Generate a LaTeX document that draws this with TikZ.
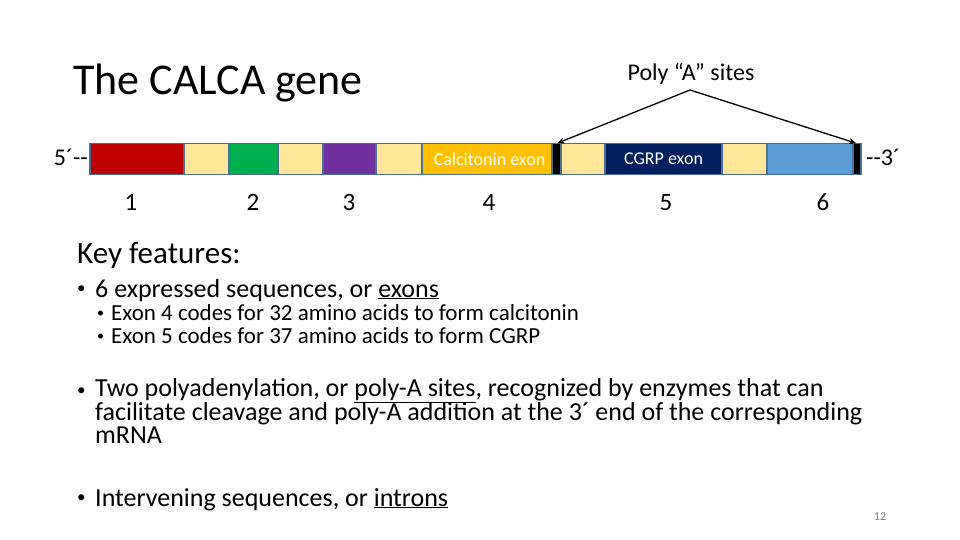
\documentclass[tikz,border=0pt]{standalone}
\usepackage{fontspec}
\setmainfont{Carlito}
\usetikzlibrary{positioning,arrows.meta}
\definecolor{segline}{HTML}{4A6F93}
\definecolor{introntan}{HTML}{FFE699}
\definecolor{exonred}{HTML}{C00000}
\definecolor{exongreen}{HTML}{00B050}
\definecolor{exonpurple}{HTML}{7030A0}
\definecolor{exonorange}{HTML}{FFC000}
\definecolor{exonnavy}{HTML}{002060}
\definecolor{exonblue}{HTML}{5B9BD5}
\tikzset{
  seg/.style={draw=segline, line width=1.3pt, minimum height=31pt, inner sep=0pt, outer sep=0pt},
  intron/.style={seg, fill=introntan},
  txt/.style={anchor=base west, inner sep=0pt},
  dotmark/.style={anchor=base west, inner sep=0pt, font=\fontsize{17}{20}\selectfont},
  numlabel/.style={anchor=base, inner sep=0pt, font=\fontsize{25}{30}\selectfont},
  polyarrow/.style={-{Stealth[length=7pt,width=6pt]}, line width=1.3pt, shorten >=1pt},
}
\begin{document}
\begin{tikzpicture}[x=1pt,y=-1pt]
    \useasboundingbox (0,0) rectangle (960,540);

    \node[txt, font=\fontsize{44}{53}\selectfont] (title) at (73,95) {The CALCA gene};

    % gene bar
    \node[seg, fill=exonred, minimum width=94pt, anchor=west] (e1) at (90,159) {};
    \node[intron, minimum width=45pt, right=0pt of e1] (i1) {};
    \node[seg, fill=exongreen, minimum width=49pt, right=0pt of i1] (e2) {};
    \node[intron, minimum width=45pt, right=0pt of e2] (i2) {};
    \node[seg, fill=exonpurple, minimum width=53pt, right=0pt of i2] (e3) {};
    \node[intron, minimum width=46pt, right=0pt of e3] (i3) {};
    \node[seg, fill=exonorange, minimum width=130pt, right=0pt of i3, text=white, font=\fontsize{18}{21}\selectfont] (e4) {\hspace{5pt}Calcitonin exon};
    \node[seg, fill=black, minimum width=9pt, right=0pt of e4] (pa1) {};
    \node[intron, minimum width=44pt, right=0pt of pa1] (i4) {};
    \node[seg, fill=exonnavy, minimum width=117pt, right=0pt of i4, text=white, font=\fontsize{18}{21}\selectfont] (e5) {CGRP exon};
    \node[intron, minimum width=45pt, right=0pt of e5] (i5) {};
    \node[seg, fill=exonblue, minimum width=86pt, right=0pt of i5] (e6) {};
    \node[seg, fill=black, minimum width=8pt, right=0pt of e6] (pa2) {};

    \node[anchor=base east, inner sep=0pt, font=\fontsize{24}{28}\selectfont] (five) at (88,166) {5´-{}-};
    \node[anchor=base west, inner sep=0pt, font=\fontsize{24}{28}\selectfont] (three) at (866,166) {-{}-3´};

    % exon numbers
    \node[numlabel] (n1) at (131,210) {1};
    \node[numlabel] (n2) at (253,210) {2};
    \node[numlabel] (n3) at (349,210) {3};
    \node[numlabel] (n4) at (489,210) {4};
    \node[numlabel] (n5) at (666,210) {5};
    \node[numlabel] (n6) at (823,210) {6};

    % poly A sites
    \node[anchor=base, inner sep=0pt, font=\fontsize{24}{28}\selectfont] (polyA) at (691,81) {Poly “A” sites};
    \coordinate (apex) at (690,90);
    \draw[polyarrow] (apex) -- (pa1.north);
    \draw[polyarrow] (apex) -- (pa2.north);

    % key features
    \node[txt, font=\fontsize{31}{36}\selectfont] (key) at (77,263) {Key features:};
    \node[dotmark] (dot1) at (77,293) {•};
    \node[txt, font=\fontsize{26}{30}\selectfont] (item1) at (95,297) {6 expressed sequences, or \underline{exons}};
    \node[dotmark, font=\fontsize{14}{16}\selectfont] (dot1a) at (97,317) {•};
    \node[txt, font=\fontsize{23}{26}\selectfont] (item1a) at (111,320) {Exon 4 codes for 32 amino acids to form calcitonin};
    \node[dotmark, font=\fontsize{14}{16}\selectfont] (dot1b) at (97,340) {•};
    \node[txt, font=\fontsize{23}{26}\selectfont] (item1b) at (111,343) {Exon 5 codes for 37 amino acids to form CGRP};
    \node[dotmark] (dot2) at (77,395) {•};
    \node[txt, align=left, font=\fontsize{26}{22.5}\selectfont] (item2) at (95,443) {Two polyadenylation, or \smash{\underline{poly-A sites}}, recognized by enzymes that can\\facilitate cleavage and poly-A addition at the 3´ end of the corresponding\\mRNA};
    \node[dotmark] (dot3) at (77,502) {•};
    \node[txt, font=\fontsize{26}{30}\selectfont] (item3) at (95,506) {Intervening sequences, or \underline{introns}};

    \node[anchor=base, inner sep=0pt, text=gray, font=\fontsize{12}{14}\selectfont] (page) at (880,520) {12};
\end{tikzpicture}
\end{document}
